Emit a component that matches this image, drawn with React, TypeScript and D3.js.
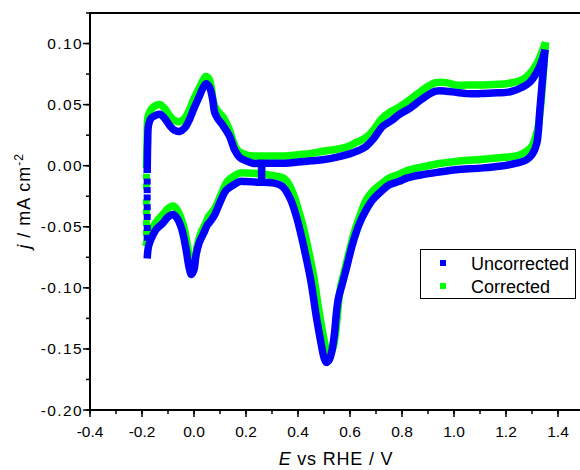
import * as d3 from "d3";
import React from "react";

// anodic (forward) scan, E / V and j / mA cm-2
const uncorrUpperE = [-0.18, -0.178, -0.175, -0.165, -0.15, -0.13, -0.11, -0.094, -0.075, -0.056, -0.035, -0.017, 0.0, 0.021, 0.035, 0.047, 0.06, 0.072, 0.079, 0.09, 0.111, 0.137, 0.156, 0.175, 0.2, 0.226, 0.26, 0.3, 0.35, 0.4, 0.45, 0.5, 0.55, 0.595, 0.624, 0.662, 0.69, 0.725, 0.76, 0.79, 0.83, 0.855, 0.893, 0.93, 0.97, 1.008, 1.05, 1.1, 1.15, 1.2, 1.225, 1.26, 1.29, 1.32, 1.34, 1.35];
const uncorrUpperJ = [-0.006, 0.02, 0.033, 0.039, 0.041, 0.042, 0.038, 0.033, 0.029, 0.028, 0.031, 0.038, 0.047, 0.057, 0.064, 0.067, 0.064, 0.054, 0.044, 0.039, 0.033, 0.024, 0.013, 0.007, 0.004, 0.002, 0.002, 0.002, 0.002, 0.003, 0.004, 0.005, 0.007, 0.0095, 0.0117, 0.0158, 0.022, 0.032, 0.037, 0.042, 0.047, 0.051, 0.057, 0.061, 0.061, 0.06, 0.059, 0.059, 0.0595, 0.06, 0.061, 0.064, 0.068, 0.077, 0.087, 0.095];
// cathodic (reverse) scan
const uncorrLowerE = [1.35, 1.34, 1.33, 1.318, 1.3, 1.28, 1.24, 1.175, 1.1, 1.008, 0.95, 0.879, 0.82, 0.79, 0.752, 0.72, 0.687, 0.66, 0.637, 0.61, 0.585, 0.57, 0.556, 0.548, 0.54, 0.53, 0.52, 0.509, 0.5, 0.49, 0.47, 0.45, 0.425, 0.41, 0.393, 0.37, 0.34, 0.3, 0.25, 0.2, 0.175, 0.15, 0.124, 0.1, 0.08, 0.065, 0.05, 0.04, 0.02, 0.008, 0.0, -0.01, -0.02, -0.03, -0.04, -0.05, -0.065, -0.08, -0.1, -0.12, -0.145, -0.165, -0.175, -0.18];
const uncorrLowerJ = [0.095, 0.07, 0.045, 0.018, 0.009, 0.005, 0.002, -0.0005, -0.002, -0.0033, -0.005, -0.0073, -0.01, -0.0128, -0.0155, -0.021, -0.028, -0.037, -0.047, -0.064, -0.085, -0.097, -0.108, -0.12, -0.138, -0.152, -0.159, -0.161, -0.157, -0.147, -0.123, -0.095, -0.069, -0.055, -0.041, -0.027, -0.017, -0.014, -0.0135, -0.013, -0.013, -0.016, -0.02, -0.03, -0.04, -0.045, -0.049, -0.054, -0.063, -0.073, -0.085, -0.089, -0.082, -0.069, -0.058, -0.05, -0.043, -0.04, -0.042, -0.047, -0.052, -0.06, -0.066, -0.076];
// sparse points of the fast jump at the negative vertex, and the start step
const uncorrJumpE = [-0.18, -0.18, -0.18, -0.18, -0.18, -0.18, -0.18];
const uncorrJumpJ = [-0.013, -0.02, -0.026, -0.034, -0.042, -0.051, -0.059];
const uncorrStartE = [0.26, 0.26];
const uncorrStartJ = [0.002, -0.0135];

const corrUpperE = [-0.183, -0.18, -0.177, -0.165, -0.15, -0.13, -0.11, -0.094, -0.075, -0.056, -0.035, -0.017, 0.0, 0.021, 0.035, 0.045, 0.058, 0.068, 0.076, 0.09, 0.111, 0.135, 0.152, 0.17, 0.2, 0.226, 0.26, 0.3, 0.35, 0.4, 0.45, 0.5, 0.55, 0.595, 0.624, 0.662, 0.69, 0.72, 0.755, 0.79, 0.83, 0.855, 0.893, 0.93, 0.97, 1.008, 1.05, 1.1, 1.15, 1.2, 1.225, 1.26, 1.29, 1.32, 1.34, 1.352];
const corrUpperJ = [-0.002, 0.025, 0.04, 0.046, 0.049, 0.05, 0.046, 0.041, 0.037, 0.036, 0.039, 0.046, 0.055, 0.064, 0.07, 0.073, 0.071, 0.062, 0.051, 0.045, 0.04, 0.03, 0.019, 0.012, 0.009, 0.008, 0.008, 0.008, 0.008, 0.009, 0.01, 0.012, 0.0135, 0.016, 0.019, 0.023, 0.029, 0.038, 0.044, 0.048, 0.054, 0.058, 0.064, 0.068, 0.068, 0.066, 0.066, 0.066, 0.0665, 0.067, 0.068, 0.07, 0.075, 0.084, 0.094, 0.101];
const corrLowerE = [1.352, 1.345, 1.336, 1.325, 1.316, 1.3, 1.28, 1.24, 1.175, 1.1, 1.008, 0.95, 0.879, 0.82, 0.79, 0.752, 0.72, 0.687, 0.66, 0.645, 0.62, 0.595, 0.578, 0.565, 0.556, 0.548, 0.538, 0.527, 0.517, 0.508, 0.498, 0.48, 0.46, 0.435, 0.42, 0.4, 0.378, 0.35, 0.3, 0.25, 0.2, 0.175, 0.15, 0.128, 0.105, 0.085, 0.07, 0.055, 0.045, 0.025, 0.012, 0.003, -0.007, -0.017, -0.028, -0.038, -0.05, -0.065, -0.08, -0.1, -0.12, -0.145, -0.165, -0.177, -0.185];
const corrLowerJ = [0.101, 0.08, 0.055, 0.033, 0.025, 0.016, 0.012, 0.008, 0.0065, 0.005, 0.0035, 0.002, -0.001, -0.004, -0.007, -0.01, -0.015, -0.021, -0.029, -0.037, -0.052, -0.072, -0.087, -0.098, -0.112, -0.13, -0.146, -0.153, -0.155, -0.15, -0.14, -0.118, -0.09, -0.064, -0.05, -0.035, -0.021, -0.011, -0.008, -0.0065, -0.006, -0.006, -0.009, -0.013, -0.023, -0.033, -0.038, -0.042, -0.047, -0.056, -0.066, -0.078, -0.083, -0.076, -0.062, -0.051, -0.043, -0.036, -0.033, -0.035, -0.04, -0.046, -0.053, -0.059, -0.066];
const corrJumpE = [-0.183, -0.183, -0.183, -0.183, -0.183, -0.183];
const corrJumpJ = [-0.009, -0.017, -0.03, -0.038, -0.047, -0.055];
const corrStartE = [0.26, 0.26];
const corrStartJ = [0.008, -0.0065];

const seriesNames = ["Uncorrected", "Corrected"];
const xTicks = [-0.4, -0.2, 0.0, 0.2, 0.4, 0.6, 0.8, 1.0, 1.2, 1.4];
const yTicks = [0.1, 0.05, 0.0, -0.05, -0.1, -0.15, -0.2];

const BLUE = "#0000ff";
const GREEN = "#00ff00";
const FONT = "Liberation Sans, Arial, sans-serif";

const zip = (xs: number[], ys: number[]): [number, number][] =>
  xs.map((x, i) => [x, ys[i]]);

const App = (): React.ReactElement => {
  const width = 580;
  const height = 470;
  const left = 90;
  const top = 13;
  const right = 584;
  const bottom = 410;

  const x = d3.scaleLinear().domain([-0.4, 1.5]).range([left, right]);
  const y = d3.scaleLinear().domain([-0.2, 0.125]).range([bottom, top]);

  const line = d3
    .line<[number, number]>()
    .x((d) => x(d[0]))
    .y((d) => y(d[1]))
    .curve(d3.curveCatmullRom.alpha(0.5));

  const series = [
    {
      color: GREEN,
      parts: [zip(corrUpperE, corrUpperJ), zip(corrLowerE, corrLowerJ), zip(corrStartE, corrStartJ)],
      jump: zip(corrJumpE, corrJumpJ),
    },
    {
      color: BLUE,
      parts: [zip(uncorrUpperE, uncorrUpperJ), zip(uncorrLowerE, uncorrLowerJ), zip(uncorrStartE, uncorrStartJ)],
      jump: zip(uncorrJumpE, uncorrJumpJ),
    },
  ];

  const xMinor = d3.range(-0.4, 1.501, 0.1);
  const yMinor = d3.range(-0.2, 0.1251, 0.025);

  return (
    <svg width={width} height={height} style={{ position: "absolute", left: 0, top: 0 }}>
      <rect x={0} y={0} width={width} height={height} fill="#fff" />
      <defs>
        <clipPath id="plotClip">
          <rect x={left} y={top} width={right - left} height={bottom - top} />
        </clipPath>
      </defs>

      <g clipPath="url(#plotClip)">
        {series.map((s, si) => (
          <g key={si}>
            {s.parts.map((p, pi) => (
              <path
                key={pi}
                d={line(p) ?? ""}
                fill="none"
                stroke={s.color}
                strokeWidth={7.5}
                strokeLinejoin="round"
              />
            ))}
            {s.jump.map((d, i) => (
              <rect
                key={i}
                x={x(d[0]) - 3.5}
                y={y(d[1]) - 3}
                width={7}
                height={6}
                fill={s.color}
              />
            ))}
          </g>
        ))}
      </g>

      {/* frame */}
      <line x1={left} x2={right} y1={top} y2={top} stroke="#000" strokeWidth={2} />
      <line x1={left} x2={left} y1={top - 1} y2={bottom + 1} stroke="#000" strokeWidth={2} />
      <line x1={left - 1} x2={right} y1={bottom} y2={bottom} stroke="#000" strokeWidth={2} />

      {/* x ticks */}
      {xMinor.map((v, i) => (
        <line key={"xm" + i} x1={x(v)} x2={x(v)} y1={bottom} y2={bottom + 4} stroke="#000" strokeWidth={1.5} />
      ))}
      {xTicks.map((v) => (
        <g key={"x" + v}>
          <line x1={x(v)} x2={x(v)} y1={bottom} y2={bottom + 7} stroke="#000" strokeWidth={1.5} />
          <text x={x(v)} y={bottom + 27} textAnchor="middle" fontFamily={FONT} fontSize={15.5}>
            {d3.format(".1f")(v).replace("−", "-")}
          </text>
        </g>
      ))}

      {/* y ticks */}
      {yMinor.map((v, i) => (
        <line key={"ym" + i} x1={left - 4} x2={left} y1={y(v)} y2={y(v)} stroke="#000" strokeWidth={1.5} />
      ))}
      {yTicks.map((v) => (
        <g key={"y" + v}>
          <line x1={left - 7} x2={left} y1={y(v)} y2={y(v)} stroke="#000" strokeWidth={1.5} />
          <text x={left - 7} y={y(v) + 5.5} textAnchor="end" fontFamily={FONT} fontSize={15.5} letterSpacing={1.4}>
            {d3.format(".2f")(v).replace("−", "-")}
          </text>
        </g>
      ))}

      {/* axis titles */}
      <text x={336} y={465} textAnchor="middle" fontFamily={FONT} fontSize={18} letterSpacing={0.8}>
        <tspan fontStyle="italic">E</tspan> vs RHE / V
      </text>
      <text transform="translate(30,201) rotate(-90)" textAnchor="middle" fontFamily={FONT} fontSize={18} letterSpacing={1}>
        <tspan fontStyle="italic">j</tspan> / mA cm
        <tspan dy={-7} fontSize={12}>-2</tspan>
      </text>

      {/* legend */}
      <rect x={420.5} y={249.5} width={155} height={49} fill="#fff" stroke="#000" strokeWidth={1} />
      {seriesNames.map((name, i) => (
        <g key={name}>
          <rect x={440} y={260 + i * 23} width={6} height={6} fill={i === 0 ? BLUE : GREEN} />
          <text x={471} y={270 + i * 23} fontFamily={FONT} fontSize={18}>
            {name}
          </text>
        </g>
      ))}
    </svg>
  );
};

export default App;
